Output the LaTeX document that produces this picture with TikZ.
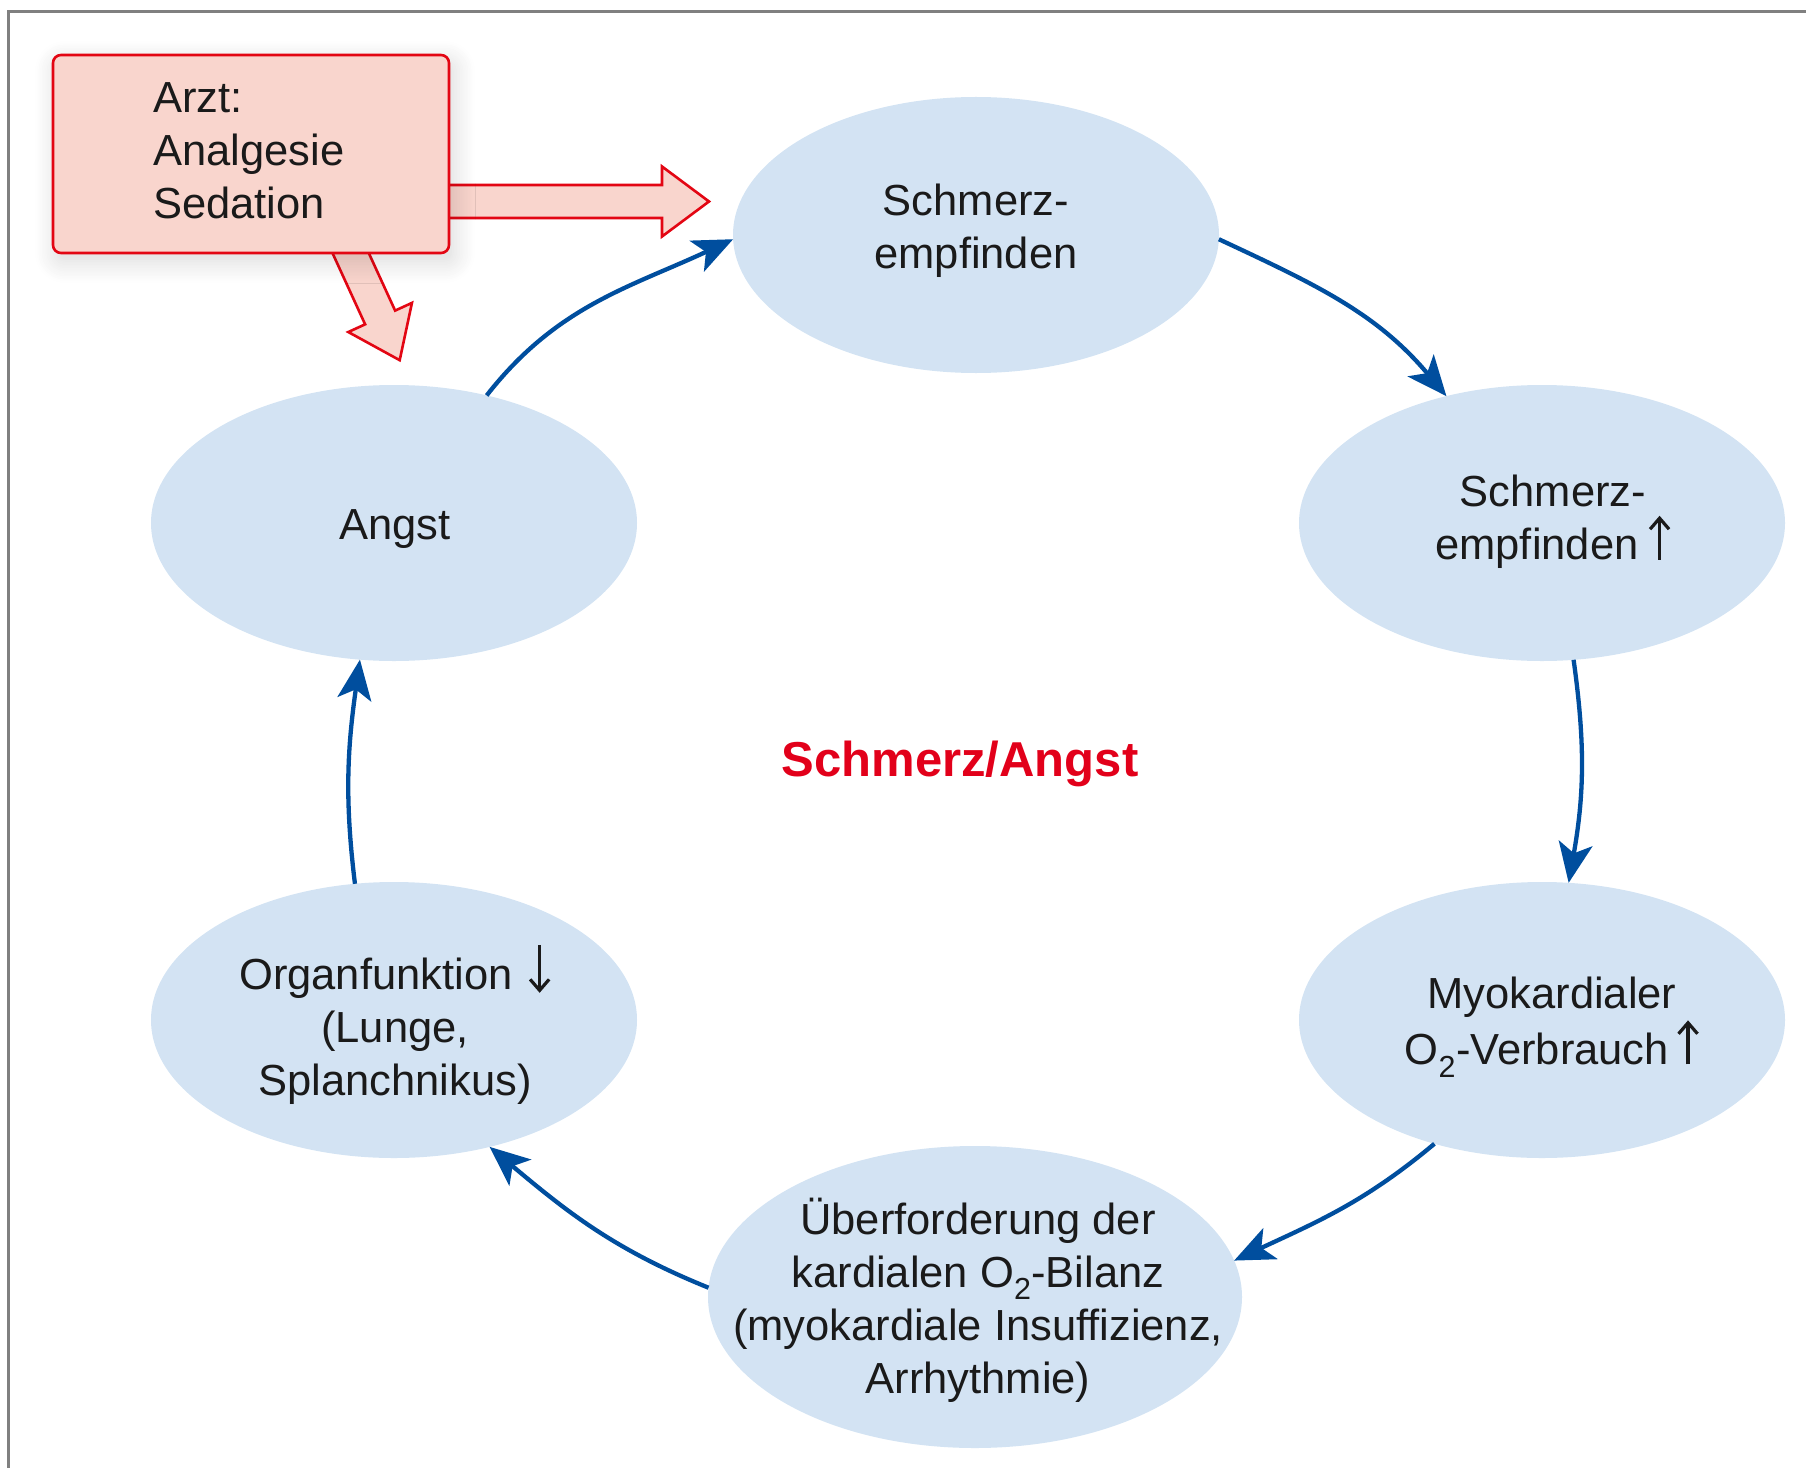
\documentclass[tikz,border=0pt]{standalone}
\usepackage{fontspec}
\setmainfont{Liberation Sans}
\usetikzlibrary{shapes.geometric, arrows.meta, shadows.blur}
\definecolor{bubblefill}{RGB}{211,227,243}
\definecolor{flow}{RGB}{0,78,158}
\definecolor{alarm}{RGB}{226,0,26}
\definecolor{boxfill}{RGB}{249,213,205}
\definecolor{boxline}{RGB}{227,6,19}
\definecolor{ink}{RGB}{26,26,26}
\definecolor{framegray}{RGB}{128,128,128}

% hollow block arrow: start point, direction angle, length
\newcommand\blockarrow[3]{%
  \begin{scope}[shift={#1}, rotate=#2]
    \draw[hint] (0,-16.5) -- ({#3-47},-16.5) -- ({#3-47},-35) -- (#3,0)
      -- ({#3-47},35) -- ({#3-47},16.5) -- (0,16.5) -- cycle;
  \end{scope}}

% tall thin arrows used in the running text (argument: gap before the arrow)
\newcommand\risearrow[1]{\hspace{#1}\tikz[baseline=0pt, x=1bp, y=1bp]
  \draw[draw=ink, line width=3.2bp, line cap=butt,
    -{Straight Barb[length=11bp, width=19bp, line width=3.2bp]}] (0,0) -- (0,44);}
\newcommand\fallarrow[1]{\hspace{#1}\tikz[baseline=0pt, x=1bp, y=1bp]
  \draw[draw=ink, line width=3.2bp, line cap=butt,
    -{Straight Barb[length=11bp, width=19bp, line width=3.2bp]}] (0,45) -- (0,-3);}

\begin{document}
\begin{tikzpicture}[x=1bp, y=-1bp,
  bubble/.style={ellipse, fill=bubblefill, inner sep=0pt, outer sep=0pt,
    minimum width=486bp, minimum height=276bp},
  celltext/.style={text=ink, align=center, inner sep=0pt,
    font=\fontsize{43.5bp}{53bp}\selectfont},
  cycle/.style={draw=flow, line width=4.3bp,
    -{Stealth[length=40bp, width=34bp, inset=10bp]}},
  hint/.style={draw=boxline, fill=boxfill, line width=2.6bp, line join=miter},
]
\useasboundingbox (0,0) rectangle (1806,1468);

% frame
\draw[framegray, line width=3bp] (8,1490) -- (8,11.5) -- (1830,11.5);

% cycle nodes
\node[bubble] (pain)   at (976,235)  {};
\node[bubble] (painup) at (1542,523) {};
\node[bubble] (oxy)    at (1542,1020) {};
\node[bubble, minimum width=534bp, minimum height=302bp] (heart) at (975,1297) {};
\node[bubble] (organ)  at (394,1020) {};
\node[bubble] (fear)   at (394,523)  {};

\node[celltext] (painT)   at (976,231)  {Schmerz-\\empfinden};
\node[celltext] (painupT) at (1553,522) {Schmerz-\\empfinden\risearrow{10bp}};
\node[celltext] (oxyT)    at (1552,1027) {Myokardialer\\O\textsubscript{2}-Verbrauch\risearrow{8bp}};
\node[celltext] (heartT)  at (978,1300) {Überforderung der\\kardialen O\textsubscript{2}-Bilanz\\(myokardiale Insuffizienz,\\Arrhythmie)};
\node[celltext] (organT)  at (395,1024) {Organfunktion\fallarrow{16bp}\\(Lunge,\\Splanchnikus)};
\node[celltext] (fearT)   at (395,529)  {Angst};

% cycle connectors
\draw[cycle] (fear.54)     to[out=52,  in=205] (pain.181);
\draw[cycle] (pain.-1)     to[out=-25, in=130] (painup.127);
\draw[cycle] (painup.-77)  to[out=-82, in=80]  (oxy.79);
\draw[cycle] (oxy.229)     to[out=220, in=25]  (heart.8);
\draw[cycle] (heart.178)   to[out=158, in=-40] (organ.-53);
\draw[cycle] (organ.106)   to[out=97,  in=-98] (fear.-104);

% centre title
\node[text=alarm, inner sep=0pt, font=\fontsize{49bp}{58bp}\selectfont\bfseries] (title) at (960,764) {Schmerz/Angst};

% intervention arrows
\blockarrow{(425,201.5)}{0}{284}
\blockarrow{(341,232)}{-65.4}{141}

% intervention box
\node[draw=boxline, fill=boxfill, line width=2.6bp, rounded corners=8bp,
  minimum width=396bp, minimum height=198bp, inner sep=0pt,
  blur shadow={shadow xshift=4bp, shadow yshift=-8bp, shadow opacity=16,
    shadow blur radius=22bp, shadow blur steps=14}] (doctor) at (251,154) {};
\node[celltext, align=left, anchor=west] (doctorT) at (153,151) {Arzt:\\Analgesie\\Sedation};
\end{tikzpicture}
\end{document}
